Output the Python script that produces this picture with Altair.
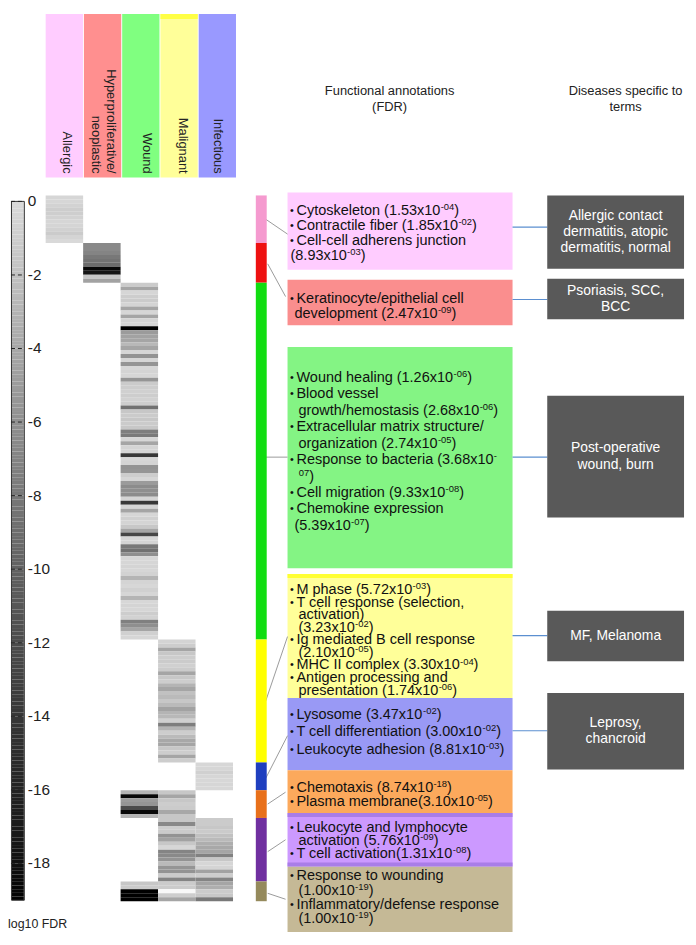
import re
import altair as alt
import pandas as pd
import numpy as np

# ---------------- data ----------------
COLUMNS = ["Allergic", "Hyperproliferative/neoplastic", "Wound", "Malignant", "Infectious"]
HEADER_LINES = [["Allergic"], ["Hyperproliferative/", "neoplastic"], ["Wound"], ["Malignant"], ["Infectious"]]
HEADER_FILL = ["#ffccff", "#ff8f8f", "#80ff80", "#ffff99", "#9999ff"]

CLUSTERS = ["allergic", "hyperproliferative", "wound", "malignant", "infectious",
            "wound+malignant", "malignant+infectious", "wound+malignant+infectious"]
CLUSTER_ROWS = [12, 10, 90, 31, 7, 7, 16, 5]
CLUSTER_BAR_COLOR = ["#f59acf", "#ee1111", "#11dd11", "#ffff00", "#1f3fbf",
                     "#e8701a", "#7030a0", "#958a5c"]
BOX_FILL = ["#ffccff", "#fa8e8e", "#84f484", "#ffff99", "#9999f5",
            "#fca95c", "#cc99ff", "#c5b996"]

# log10 FDR per row, per cluster and disease column
allergic_allergic = [-0.3, -0.3, -0.6, -1.0, -0.9, -0.6, -0.3, -0.4, -0.7, -1.2, -0.5, -0.1]
hyper_hyper = [-6.5, -6.5, -7.0, -8.0, -8.5, -9.0, -18.5, -17.5, -1.5, -4.5]
wound_wound = [-1.2, -4.2, -0.3, -1.0, -1.2, -0.5, -4.2, -0.3, -4.2, -0.5,
               -0.3, -19.0, -5.0, -4.5, -4.2, -2.7, -4.2, -0.3, -5.7, -0.3,
               -5.5, -0.2, -0.5, -0.3, -5.5, -1.2, -1.0, -0.8, -1.0, -0.7,
               -1.0, -8.6, -1.5, -1.2, -1.5, -1.2, -1.5, -7.5, -7.8, -0.3,
               -4.2, -0.5, -0.5, -14.0, -0.3, -0.5, -5.7, -5.5, -1.0, -0.3,
               -5.0, -6.3, -6.0, -6.3, -0.5, -14.0, -0.5, -4.2, -0.3, -0.8,
               -0.5, -1.5, -4.2, -12.5, -0.3, -0.5, -8.0, -8.6, -6.0, -0.2,
               -0.3, -0.5, -0.3, -0.6, -3.0, -0.5, -0.2, -0.8, -0.3, -3.0,
               -0.2, -0.5, -0.3, -1.0, -0.6, -7.3, -6.0, -4.2, -0.8, -0.3]
malignant_malignant = [-0.5, -1.0, -4.2, -1.5, -1.0, -1.2, -0.8, -1.2, -4.2, -1.5,
                       -1.0, -3.0, -4.2, -2.0, -2.5, -1.5, -2.5, -4.5, -3.0, -2.7,
                       -0.8, -7.5, -3.0, -1.0, -2.5, -4.0, -4.2, -1.5, -1.0, -4.2, -1.0]
infectious_infectious = [-0.2, -0.3, -0.8, -0.3, -0.2, -0.3, -0.2]
woundmal_wound = [-3.0, -18.5, -5.0, -5.5, -12.0, -18.5, -3.0]
woundmal_malignant = [-1.5, -4.2, -1.5, -1.0, -1.2, -4.0, -1.5]
malinf_malignant = [-1.5, -6.5, -1.0, -1.2, -5.7, -4.5, -1.5, -0.3,
                    -7.0, -6.5, -5.7, -2.5, -5.5, -5.7, -1.2, -7.0]
malinf_infectious = [-1.2, -1.2, -1.5, -1.2, -2.0, -2.5, -3.5, -4.0,
                     -4.2, -7.2, -1.5, -0.3, -0.5, -4.5, -1.0, -7.0]
all3_wound = [-1.5, -1.2, -19.0, -19.0, -19.0]
all3_malignant = [-1.2, -1.2, 1.2, -1.0, -4.2]
all3_infectious = [-4.2, -3.5, -1.2, -1.5, -8.0]

HEAT = [
    (0, "Allergic", allergic_allergic),
    (1, "Hyperproliferative/neoplastic", hyper_hyper),
    (2, "Wound", wound_wound),
    (3, "Malignant", malignant_malignant),
    (4, "Infectious", infectious_infectious),
    (5, "Wound", woundmal_wound),
    (5, "Malignant", woundmal_malignant),
    (6, "Malignant", malinf_malignant),
    (6, "Infectious", malinf_infectious),
    (7, "Wound", all3_wound),
    (7, "Malignant", all3_malignant),
    (7, "Infectious", all3_infectious),
]

# "•" = bullet; leading spaces = indentation; {...} = superscript
ANNOTATIONS = [
    ["•Cytoskeleton (1.53x10{-04})", "•Contractile fiber (1.85x10{-02})",
     "•Cell-cell adherens junction", "(8.93x10{-03})"],
    ["•Keratinocyte/epithelial cell", " development (2.47x10{-09})"],
    ["•Wound healing (1.26x10{-06})", "•Blood vessel", "  growth/hemostasis (2.68x10{-06})",
     "•Extracellular matrix structure/", "  organization (2.74x10{-05})",
     "•Response to bacteria (3.68x10{-}", "  {07})", "•Cell migration (9.33x10{-08})",
     "•Chemokine expression", " (5.39x10{-07})"],
    ["•M phase (5.72x10{-03})", "•T cell response (selection,", "  activation)", "  (3.23x10{-02})",
     "•Ig mediated B cell response", "  (2.10x10{-05})", "•MHC II complex (3.30x10{-04})",
     "•Antigen processing and", "  presentation (1.74x10{-06})"],
    ["•Lysosome (3.47x10{-02})", "•T cell differentiation (3.00x10{-02})",
     "•Leukocyte adhesion (8.81x10{-03})"],
    ["•Chemotaxis (8.74x10{-18})", "•Plasma membrane(3.10x10{-05})"],
    ["•Leukocyte and lymphocyte", "  activation (5.76x10{-09})", "•T cell activation(1.31x10{-08})"],
    ["•Response to wounding", "  (1.00x10{-19})", "•Inflammatory/defense response", "  (1.00x10{-19})"],
]

DISEASES = [["Allergic contact", "dermatitis, atopic", "dermatitis, normal"],
            ["Psoriasis, SCC,", "BCC"], ["Post-operative", "wound, burn"],
            ["MF, Melanoma"], ["Leprosy,", "chancroid"]]
TITLES = [["Functional annotations", "(FDR)"], ["Diseases specific to", "terms"]]

CBAR_TICKS = [0, -2, -4, -6, -8, -10, -12, -14, -16, -18]
CBAR_MIN, CBAR_MAX = -19, 0

# ---------------- layout (pixel positions of the reference) ----------------
ANN_X = (290, 517)
ANN_TOP = [190, 278, 346, 575, 700, 773, 816, 870]
ANN_BOT = [268, 324, 569, 700, 773, 816, 870, 936]
ANN_LINE0 = [209, 297, 377, 591, 717, 791, 831, 880]
ANN_STEP = [15, 16, 16.6, 12.7, 17.5, 13.5, 13, 14.3]
INDENT_X = [293, 297, 301]
BULLET_X, TEXT_X = 292.5, 299
CONNECT = [(268, 217, 290, 232), (270, 262, 288, 295), (268, 457, 290, 457),
           (268, 703, 290, 638), (268, 781, 290, 738), (270, 807, 288, 795),
           (270, 855, 288, 843), (270, 897, 288, 903)]
LINK_Y = [225, 298, 457, 637, 733]
DIS_X = (552, 690)
DIS_TOP = [193, 277, 395, 612, 695]
DIS_BOT = [267, 318, 518, 663, 772]
HEAD_TEXT_X = [[67], [111.5, 96.5], [148], [185], [219.5]]
FS_MAIN, FS_SUP = 14.6, 9.5

W, H = 680, 929
PXS = alt.Scale(domain=[0, 696], range=[-8, 688], nice=False, zero=False)
PYS = alt.Scale(domain=[0, 945], range=[-8, 937], nice=False, zero=False)
NROWS = sum(CLUSTER_ROWS)
ROWS = alt.Scale(domain=[0, NROWS], range=[185, 897], nice=False, zero=False)
FDR = alt.Scale(domain=[CBAR_MAX, CBAR_MIN], range=[191, 896], nice=False, zero=False)
GRAY = alt.Scale(domain=[-19, 0, 1.5], range=["#000000", "#dadada", "#ffffff"])
FONT = "Liberation Sans"

# Arial / Liberation Sans advance widths (1/1000 em) for placing superscripts
AW = {" ": 278, "(": 333, ")": 333, ",": 278, "-": 333, ".": 278, "/": 278, ":": 278}
AW.update({d: 556 for d in "0123456789"})
AW.update(dict(zip("ABCDEFGHIJKLMNOPQRSTUVWXYZ",
                   [667, 667, 722, 722, 667, 611, 778, 722, 278, 500, 667, 556, 833,
                    722, 778, 667, 778, 722, 667, 611, 722, 667, 944, 667, 667, 611])))
AW.update(dict(zip("abcdefghijklmnopqrstuvwxyz",
                   [556, 556, 500, 556, 556, 278, 556, 556, 222, 222, 500, 222, 833,
                    556, 556, 556, 556, 333, 500, 278, 556, 500, 722, 500, 500, 500])))

def twidth(s, size):
    return sum(AW.get(c, 556) for c in s) / 1000.0 * size

def xq(f):
    return alt.X(f, type="quantitative", scale=PXS, axis=None)

def yq(f):
    return alt.Y(f, type="quantitative", scale=PYS, axis=None)

# ---------------- layer A: annotation panel ----------------
ann_boxes = pd.DataFrame({"x": ANN_X[0], "x2": ANN_X[1], "y": ANN_TOP, "y2": ANN_BOT, "fill": BOX_FILL})
accents = pd.DataFrame({"x": [290, 290, 290], "x2": [517, 517, 517],
                        "y": [575, 816, 866], "y2": [579, 820, 870],
                        "fill": ["#ffff33", "#a97de8", "#a97de8"]})
main_rows, sup_rows, bullet_rows = [], [], []
for b, lines in enumerate(ANNOTATIONS):
    for i, s in enumerate(lines):
        y = ANN_LINE0[b] + i * ANN_STEP[b]
        if s.startswith("•"):
            bullet_rows.append({"x": BULLET_X, "y": y, "t": "•"})
            x = TEXT_X
            s = s[1:]
        else:
            n = len(s) - len(s.lstrip(" "))
            x = INDENT_X[min(n, 2)]
            s = s.lstrip(" ")
        for k, part in enumerate(re.split(r"\{([^}]*)\}", s)):
            if not part:
                continue
            if k % 2 == 0:
                main_rows.append({"x": x, "y": y, "t": part})
                x += twidth(part, FS_MAIN)
            else:
                sup_rows.append({"x": x + 0.3, "y": y - 4.0, "t": part})
                x += twidth(part, FS_SUP) + 0.3
main_text = pd.DataFrame(main_rows)
sup_text = pd.DataFrame(sup_rows)
bullets = pd.DataFrame(bullet_rows)

conn = pd.DataFrame(CONNECT, columns=["x", "y", "x2", "y2"])
links = pd.DataFrame({"x": 517, "x2": DIS_X[0], "y": LINK_Y})
dis_boxes = pd.DataFrame({"x": DIS_X[0], "x2": DIS_X[1], "y": DIS_TOP, "y2": DIS_BOT})

dis_rows = []
for lines, a, b in zip(DISEASES, DIS_TOP, DIS_BOT):
    mid, lh = (a + b) / 2, 16.5
    for i, s in enumerate(lines):
        dis_rows.append({"x": (DIS_X[0] + DIS_X[1]) / 2, "y": mid + (i - (len(lines) - 1) / 2) * lh, "t": s})
dis_text = pd.DataFrame(dis_rows)

title_rows = []
for lines, cx in zip(TITLES, [393, 631]):
    for i, s in enumerate(lines):
        title_rows.append({"x": cx, "y": 88 + i * 16, "t": s})
titles = pd.DataFrame(title_rows)
cbar_title = pd.DataFrame({"x": [8], "y": [928], "t": ["log10 FDR"]})

def rect_layer(df):
    return alt.Chart(df).mark_rect().encode(
        x=xq("x"), x2=alt.X2("x2"), y=yq("y"), y2=alt.Y2("y2"),
        color=alt.Color("fill:N", scale=None))

def text_layer(df, **kw):
    return alt.Chart(df).mark_text(font=FONT, baseline="middle", **kw).encode(
        x=xq("x"), y=yq("y"), text="t:N")

layer_a = alt.layer(
    rect_layer(ann_boxes),
    rect_layer(accents),
    text_layer(bullets, align="left", fontSize=11, color="#111111"),
    text_layer(main_text, align="left", fontSize=FS_MAIN, color="#111111"),
    text_layer(sup_text, align="left", fontSize=FS_SUP, color="#111111"),
    alt.Chart(conn).mark_rule(color="#9a9a9a", strokeWidth=1).encode(
        x=xq("x"), y=yq("y"), x2=alt.X2("x2"), y2=alt.Y2("y2")),
    alt.Chart(links).mark_rule(color="#5b8fd0", strokeWidth=1.2).encode(
        x=xq("x"), x2=alt.X2("x2"), y=yq("y")),
    alt.Chart(dis_boxes).mark_rect(color="#595959").encode(
        x=xq("x"), x2=alt.X2("x2"), y=yq("y"), y2=alt.Y2("y2")),
    text_layer(dis_text, align="center", fontSize=14, color="#ffffff"),
    text_layer(titles, align="center", fontSize=13, color="#222222"),
    text_layer(cbar_title, align="left", fontSize=12.5, color="#222222"),
)

# ---------------- layer B: column headers ----------------
BAND = alt.Scale(domain=COLUMNS, range=[38, 230], paddingInner=0.025, paddingOuter=0)
head = pd.DataFrame({"col": COLUMNS, "y": 10, "y2": 175, "fill": HEADER_FILL})
head_stripe = pd.DataFrame({"col": ["Malignant"], "y": [10], "y2": [15], "fill": ["#ffff44"]})
head_rows = []
for lines, xs in zip(HEADER_LINES, HEAD_TEXT_X):
    for s, x in zip(lines, xs):
        head_rows.append({"x": x, "y": 171, "t": s})
head_text = pd.DataFrame(head_rows)
layer_b = alt.layer(
    alt.Chart(head).mark_rect().encode(
        x=alt.X("col:N", scale=BAND, axis=None), y=yq("y"), y2=alt.Y2("y2"),
        color=alt.Color("fill:N", scale=None)),
    alt.Chart(head_stripe).mark_rect().encode(
        x=alt.X("col:N", scale=BAND, axis=None), y=yq("y"), y2=alt.Y2("y2"),
        color=alt.Color("fill:N", scale=None)),
)
layer_b2 = alt.Chart(head_text).mark_text(angle=90, align="right", baseline="middle", font=FONT,
                                          fontSize=13, color="#222222").encode(
    x=xq("x"), y=yq("y"), text="t:N")

# ---------------- layer C: heatmap ----------------
starts = np.concatenate([[0], np.cumsum(CLUSTER_ROWS)[:-1]])
cells = []
for ci, col, vals in HEAT:
    for i, v in enumerate(vals):
        r = int(starts[ci]) + i
        cells.append({"col": col, "row": r, "row2": r + 1, "val": v})
cells = pd.DataFrame(cells)
HBAND = alt.Scale(domain=COLUMNS, range=[38, 227], paddingInner=0, paddingOuter=0)
layer_c = alt.Chart(cells).mark_rect().encode(
    x=alt.X("col:N", scale=HBAND, axis=None),
    y=alt.Y("row:Q", scale=ROWS, axis=None), y2=alt.Y2("row2"),
    color=alt.Color("val:Q", scale=GRAY, legend=None))

# ---------------- layer D: cluster colour bar ----------------
cbar = pd.DataFrame({"cluster": CLUSTERS, "r0": starts, "r1": np.cumsum(CLUSTER_ROWS),
                     "fill": CLUSTER_BAR_COLOR, "x": 258, "x2": 269})
layer_d = alt.Chart(cbar).mark_rect().encode(
    x=xq("x"), x2=alt.X2("x2"),
    y=alt.Y("r0:Q", scale=ROWS, axis=None), y2=alt.Y2("r1"),
    color=alt.Color("fill:N", scale=None))

# ---------------- layer E: FDR colour scale ----------------
steps = np.round(np.arange(CBAR_MAX, CBAR_MIN, -0.1), 2)
grad = pd.DataFrame({"v": steps, "v2": steps - 0.1, "val": steps - 0.05, "x": 12, "x2": 24})
ticks = pd.DataFrame({"v": CBAR_TICKS, "x": 11, "x2": 25, "tx": 28,
                      "label": [str(t) for t in CBAR_TICKS]})
frame = pd.DataFrame({"v": [CBAR_MAX], "v2": [CBAR_MIN], "x": [11.5], "x2": [24.5]})
layer_e = alt.layer(
    alt.Chart(grad).mark_rect().encode(
        x=xq("x"), x2=alt.X2("x2"),
        y=alt.Y("v:Q", scale=FDR, axis=None), y2=alt.Y2("v2"),
        color=alt.Color("val:Q", scale=GRAY, legend=None)),
    alt.Chart(frame).mark_rect(fillOpacity=0, stroke="#333333", strokeWidth=1).encode(
        x=xq("x"), x2=alt.X2("x2"),
        y=alt.Y("v:Q", scale=FDR, axis=None), y2=alt.Y2("v2")),
    alt.Chart(ticks).mark_rule(color="#222222", strokeDash=[4, 3], strokeWidth=1).encode(
        x=xq("x"), x2=alt.X2("x2"), y=alt.Y("v:Q", scale=FDR, axis=None)),
    alt.Chart(ticks).mark_text(align="left", baseline="middle", font=FONT, fontSize=15.5,
                               color="#222222").encode(
        x=xq("tx"), y=alt.Y("v:Q", scale=FDR, axis=None), text="label:N"),
)

chart = alt.layer(layer_a, layer_b, layer_b2, layer_c, layer_d, layer_e).resolve_scale(
    x="independent", y="independent", color="independent"
).properties(
    width=W, height=H,
    padding={"left": 0, "top": 0, "right": 6, "bottom": 0},
    autosize=alt.AutoSizeParams(type="none"),
).configure_view(stroke=None)

chart.save("out.html", embed_options={"renderer": "svg", "actions": False})
